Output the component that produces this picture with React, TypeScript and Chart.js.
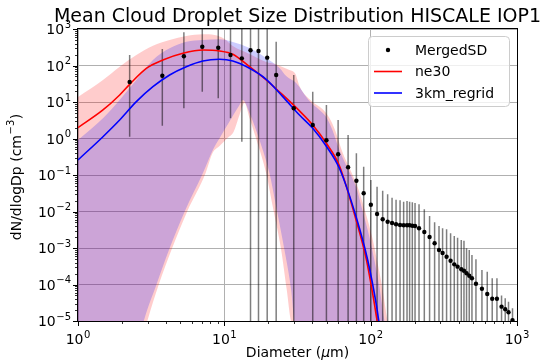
import React, { useEffect, useRef } from "react";
import { Chart, registerables } from "chart.js";

Chart.register(...registerables);

// ---------- data ----------
// MergedSD observations
const sdDiameter = [2.254, 3.769, 5.291, 7.068, 9.086, 11.02, 13.17, 15.10, 17.12, 19.63, 22.61, 29.81, 40.19, 49.85, 59.92, 70.11, 79.88, 89.59, 100.3, 110.6, 120.8, 130.6, 140.0, 149.1, 158.8, 168.0, 177.2, 184.6, 192.6, 201.0, 214.0, 232.6, 252.7, 273.5, 293.1, 310.1, 330.2, 351.7, 372.7, 392.6, 416.1, 434.1, 452.1, 471.7, 492.2, 524.2, 576.0, 626.1, 677.1, 729.3, 784.1, 830.8, 875.0, 931.8];
const sdValue = [35.3, 52.6, 178.6, 327, 305, 194, 157, 261, 250, 164, 55, 6.72, 2.34, 0.893, 0.369, 0.1626, 0.0698, 0.0315, 0.01527, 0.00855, 0.00611, 0.00526, 0.00484, 0.00446, 0.00427, 0.00419, 0.00419, 0.00419, 0.00408, 0.00401, 0.00347, 0.00274, 0.0020, 0.001345, 0.000881, 0.00073, 0.000578, 0.000449, 0.000357, 0.000308, 0.000261, 0.000239, 0.000203, 0.000174, 0.000148, 0.000105, 7.67e-5, 5.5e-5, 4.08e-5, 4.08e-5, 2.47e-5, 2.09e-5, 1.73e-5, 1.06e-5];
const sdErrLow = [1.12, 2.24, 6.72, 19.1, 12.6, 3.57, 0.817, 1e-7, 1e-7, 1e-7, 1e-7, 1e-7, 1e-7, 1e-7, 1e-7, 1e-7, 1e-7, 1e-7, 1e-7, 1e-7, 1e-7, 1e-7, 1e-7, 1e-7, 1e-7, 1e-7, 1e-7, 1e-7, 1e-7, 1e-7, 1e-7, 1e-7, 1e-7, 1e-7, 1e-7, 1e-7, 1e-7, 1e-7, 1e-7, 1e-7, 1e-7, 1e-7, 1e-7, 1e-7, 1e-7, 1e-7, 1e-7, 1e-7, 1e-7, 1e-7, 1e-7, 1e-7, 1e-7, 1e-7];
const sdErrHigh = [194, 283, 813, 1e4, 1e4, 1e4, 1e4, 1e4, 1e4, 1e4, 449, 55, 19.1, 8.27, 3.21, 1.25, 0.393, 0.169, 0.073, 0.0478, 0.0372, 0.0296, 0.0239, 0.0210, 0.0203, 0.01855, 0.0194, 0.0186, 0.0179, 0.0171, 0.0157, 0.01148, 0.00753, 0.00506, 0.00401, 0.00347, 0.00325, 0.00253, 0.00213, 0.00191, 0.00166, 0.00158, 0.00098, 0.00088, 0.000643, 0.00049, 0.000249, 0.000224, 0.000148, 0.000148, 4.97e-5, 4.19e-5, 3.38e-5, 2.23e-5];

// ne30 model mean
const ne30Diameter = [1, 1.481, 1.926, 2.254, 2.93, 3.80, 5.21, 7.132, 9.274, 11.43, 14.86, 19.32, 25.08, 32.61, 40.19, 49.62, 61.13, 79.49, 93.0, 106.0, 109.9, 118.3];
const ne30Value = [1.98, 6.04, 15.6, 30.5, 83.8, 141.6, 216, 266, 250, 203, 92.7, 40.1, 15.6, 5.7, 2.34, 0.753, 0.18, 0.00585, 5.3e-4, 3.0e-5, 1.2e-5, 3.0e-6];

// 3km_regrid model mean
const km3Diameter = [1, 1.481, 1.926, 2.504, 3.251, 4.227, 5.495, 7.132, 9.274, 11.43, 14.86, 19.32, 25.08, 32.61, 40.19, 49.62, 61.13, 79.49, 95.4, 109.9, 113.4, 122.1];
const km3Value = [0.258, 1.12, 3.21, 10.2, 26.2, 55, 92.7, 133, 148, 133, 83.8, 41.9, 14.0, 4.40, 1.90, 0.624, 0.153, 0.00721, 4.69e-4, 2.47e-5, 1.06e-5, 3.0e-6];

// ne30 range (shaded)
const ne30UpperD = [1, 1.481, 1.926, 2.504, 3.251, 4.227, 5.495, 7.132, 8.574, 10.03, 11.43, 14.86, 19.32, 22.37, 24.97, 27.87, 30.62, 32.61, 39.37, 46.81, 52.25, 57.41, 64.09, 72.68, 82.41, 92.0, 102.7, 111.1, 120.2, 130.0, 140.7, 1000];
const ne30UpperV = [13.7, 40.1, 92.7, 194, 349, 500, 643, 716, 685, 532, 342, 207, 125, 110, 91, 75.3, 58.5, 27.4, 10.6, 6.43, 3.65, 1.61, 0.427, 0.137, 0.0413, 0.00968, 0.00188, 4.13e-4, 8.0e-5, 1.06e-5, 2.2e-6, 1e-12];
const ne30LowerD = [1, 2.991, 3.555, 4.395, 5.565, 7.442, 8.309, 9.274, 10.51, 11.56, 12.70, 13.74, 14.86, 16.59, 19.32, 21.43, 24.46, 26.71, 28.62, 1000];
const ne30LowerV = [1e-12, 1.06e-5, 9.68e-5, 9.8e-4, 0.00988, 0.111, 0.40, 0.624, 1.03, 1.51, 4.40, 9.39, 3.65, 0.91, 0.111, 0.01355, 8.81e-4, 7.06e-5, 9.57e-6, 1e-12];

// 3km_regrid range (shaded)
const km3UpperD = [1, 1.481, 1.926, 2.504, 3.251, 4.227, 5.495, 7.132, 9.274, 11.43, 14.86, 19.32, 23.82, 26.46, 30.96, 38.15, 44.66, 49.62, 54.78, 61.13, 69.34, 79.49, 87.78, 97.97, 106.0, 114.7, 124.0, 134.2, 1000];
const km3UpperV = [0.91, 3.58, 11.35, 40.1, 142, 296, 449, 500, 522, 441, 301, 160, 85.5, 51.5, 33.2, 10.6, 6.04, 3.88, 1.71, 0.484, 0.156, 0.0469, 0.011, 0.00204, 4.69e-4, 8.7e-5, 1.06e-5, 2.2e-6, 1e-12];
const km3LowerD = [1, 2.853, 3.429, 4.227, 5.350, 7.132, 8.348, 9.274, 12.70, 13.37, 14.86, 17.39, 20.35, 22.61, 25.76, 28.62, 30.15, 1000];
const km3LowerV = [1e-12, 1.19e-5, 9.68e-5, 9.8e-4, 0.00988, 0.111, 0.484, 1.01, 8.27, 11.35, 5.0, 0.91, 0.111, 0.01355, 8.81e-4, 7.06e-5, 9.57e-6, 1e-12];

// axes ticks
const xTickValues = [1, 10, 100, 1000];
const xTickExponents = ["0", "1", "2", "3"];
const yTickValues = [1e-5, 1e-4, 1e-3, 1e-2, 1e-1, 1, 10, 100, 1000];
const yTickExponents = ["\u22125", "\u22124", "\u22123", "\u22122", "\u22121", "0", "1", "2", "3"];
const minorSubs = [2, 3, 4, 5, 6, 7, 8, 9];

const titleText = "Mean Cloud Droplet Size Distribution HISCALE IOP1";
const legendLabels = ["MergedSD", "ne30", "3km_regrid"];

const FONT = '"DejaVu Sans", sans-serif';
const RED = "#ff0000";
const BLUE = "#0000ff";

const pts = (xs: number[], ys: number[]) => xs.map((x, i) => ({ x, y: ys[i] }));

function drawPow(ctx: CanvasRenderingContext2D, x: number, baseline: number, exp: string, align: "center" | "right") {
  ctx.font = `14px ${FONT}`;
  const wb = ctx.measureText("10").width;
  ctx.font = `10px ${FONT}`;
  const ws = ctx.measureText(exp).width;
  const total = wb + ws + 0.5;
  const left = align === "center" ? x - total / 2 : x - total;
  ctx.textAlign = "left";
  ctx.textBaseline = "alphabetic";
  ctx.font = `14px ${FONT}`;
  ctx.fillText("10", left, baseline);
  ctx.font = `10px ${FONT}`;
  ctx.fillText(exp, left + wb + 0.5, baseline - 6.5);
}

const decorPlugin = {
  id: "decor",
  afterDatasetsDraw(chart: any) {
    const { ctx, chartArea: a, scales } = chart;
    const xs = scales.x;
    const ys = scales.y;
    ctx.save();
    ctx.strokeStyle = "#000";
    ctx.lineWidth = 1;
    ctx.strokeRect(Math.round(a.left) - 0.5, Math.round(a.top) - 0.5, Math.round(a.right - a.left) + 1, Math.round(a.bottom - a.top) + 1);
    ctx.beginPath();
    for (const v of xTickValues) {
      const px = Math.round(xs.getPixelForValue(v)) + 0.5;
      ctx.moveTo(px, a.bottom);
      ctx.lineTo(px, a.bottom + 5);
    }
    for (const v of yTickValues) {
      const py = Math.round(ys.getPixelForValue(v)) + 0.5;
      ctx.moveTo(a.left, py);
      ctx.lineTo(a.left - 5, py);
    }
    ctx.stroke();
    ctx.beginPath();
    ctx.lineWidth = 0.8;
    for (const d of xTickValues.slice(0, -1)) {
      for (const s of minorSubs) {
        const px = Math.round(xs.getPixelForValue(d * s)) + 0.5;
        ctx.moveTo(px, a.bottom);
        ctx.lineTo(px, a.bottom + 3);
      }
    }
    for (const d of yTickValues.slice(0, -1)) {
      for (const s of minorSubs) {
        const py = Math.round(ys.getPixelForValue(d * s)) + 0.5;
        ctx.moveTo(a.left, py);
        ctx.lineTo(a.left - 3, py);
      }
    }
    ctx.stroke();
    ctx.restore();
  },
  afterDraw(chart: any) {
    const { ctx, chartArea: a, scales } = chart;
    const xs = scales.x;
    const ys = scales.y;
    ctx.save();
    ctx.fillStyle = "#000";
    xTickValues.forEach((v, i) => drawPow(ctx, xs.getPixelForValue(v), a.bottom + 23, xTickExponents[i], "center"));
    yTickValues.forEach((v, i) => drawPow(ctx, a.left - 7, ys.getPixelForValue(v) + 5, yTickExponents[i], "right"));

    // title
    ctx.font = `19px ${FONT}`;
    ctx.textAlign = "center";
    ctx.textBaseline = "alphabetic";
    ctx.fillText(titleText, (a.left + a.right) / 2, 22);

    // x label
    ctx.font = `14px ${FONT}`;
    const p1 = "Diameter (";
    const p3 = "m)";
    const w1 = ctx.measureText(p1).width;
    const w3 = ctx.measureText(p3).width;
    ctx.font = `italic 14px ${FONT}`;
    const w2 = ctx.measureText("\u03bc").width;
    const lx = (a.left + a.right) / 2 - (w1 + w2 + w3) / 2;
    ctx.textAlign = "left";
    ctx.font = `14px ${FONT}`;
    ctx.fillText(p1, lx, 357);
    ctx.font = `italic 14px ${FONT}`;
    ctx.fillText("\u03bc", lx + w1, 357);
    ctx.font = `14px ${FONT}`;
    ctx.fillText(p3, lx + w1 + w2, 357);

    // y label
    ctx.save();
    ctx.translate(20.5, (a.top + a.bottom) / 2 + 2);
    ctx.rotate(-Math.PI / 2);
    const q1 = "dN/dlogDp (cm";
    const q2 = "\u22123";
    const q3 = ")";
    ctx.font = `14px ${FONT}`;
    const v1 = ctx.measureText(q1).width;
    const v3 = ctx.measureText(q3).width;
    ctx.font = `10px ${FONT}`;
    const v2 = ctx.measureText(q2).width;
    const tot = v1 + v2 + v3 + 1;
    const sx = -tot / 2;
    ctx.textAlign = "left";
    ctx.font = `14px ${FONT}`;
    ctx.fillText(q1, sx, 0);
    ctx.font = `10px ${FONT}`;
    ctx.fillText(q2, sx + v1 + 0.5, -6.5);
    ctx.font = `14px ${FONT}`;
    ctx.fillText(q3, sx + v1 + v2 + 1, 0);
    ctx.restore();

    // legend
    const bx = 368.5, by = 36.5, bw = 141, bh = 70, r = 4;
    ctx.beginPath();
    ctx.moveTo(bx + r, by);
    ctx.lineTo(bx + bw - r, by);
    ctx.arcTo(bx + bw, by, bx + bw, by + r, r);
    ctx.lineTo(bx + bw, by + bh - r);
    ctx.arcTo(bx + bw, by + bh, bx + bw - r, by + bh, r);
    ctx.lineTo(bx + r, by + bh);
    ctx.arcTo(bx, by + bh, bx, by + bh - r, r);
    ctx.lineTo(bx, by + r);
    ctx.arcTo(bx, by, bx + r, by, r);
    ctx.closePath();
    ctx.fillStyle = "rgba(255,255,255,0.8)";
    ctx.fill();
    ctx.strokeStyle = "#cccccc";
    ctx.lineWidth = 1;
    ctx.stroke();

    const rowY = [50, 71.5, 93];
    const hx0 = 374, hx1 = 402, tx = 415;
    ctx.fillStyle = "#000";
    ctx.beginPath();
    ctx.arc((hx0 + hx1) / 2, rowY[0], 2.2, 0, Math.PI * 2);
    ctx.fill();
    ctx.lineWidth = 1.6;
    ctx.strokeStyle = RED;
    ctx.beginPath();
    ctx.moveTo(hx0, rowY[1]);
    ctx.lineTo(hx1, rowY[1]);
    ctx.stroke();
    ctx.strokeStyle = BLUE;
    ctx.beginPath();
    ctx.moveTo(hx0, rowY[2]);
    ctx.lineTo(hx1, rowY[2]);
    ctx.stroke();
    ctx.fillStyle = "#000";
    ctx.font = `14px ${FONT}`;
    ctx.textAlign = "left";
    ctx.textBaseline = "middle";
    legendLabels.forEach((t, i) => ctx.fillText(t, tx, rowY[i] + 1));
    ctx.restore();
  },
};

export default function App() {
  const ref = useRef<HTMLCanvasElement>(null);
  useEffect(() => {
    if (!ref.current) return;
    const errData: { x: number; y: number | null }[] = [];
    sdDiameter.forEach((d, i) => {
      errData.push({ x: d, y: sdErrLow[i] }, { x: d, y: sdErrHigh[i] }, { x: d, y: null });
    });
    const band = (d: number[], v: number[], fill: any, bg: string | undefined, order: number) => ({
      data: pts(d, v),
      borderWidth: 0,
      borderColor: "rgba(0,0,0,0)",
      backgroundColor: bg,
      pointRadius: 0,
      cubicInterpolationMode: "monotone",
      fill,
      order,
    });
    const chart = new Chart(ref.current, {
      type: "line",
      data: {
        datasets: [
          {
            label: "MergedSD",
            data: pts(sdDiameter, sdValue),
            showLine: false,
            pointRadius: 2.2,
            pointBackgroundColor: "#000",
            pointBorderWidth: 0,
            borderColor: "#000",
            order: 0,
          },
          {
            label: "3km_regrid",
            data: pts(km3Diameter, km3Value),
            borderColor: BLUE,
            borderWidth: 1.6,
            pointRadius: 0,
            cubicInterpolationMode: "monotone",
            fill: false,
            order: 1,
          },
          {
            label: "ne30",
            data: pts(ne30Diameter, ne30Value),
            borderColor: RED,
            borderWidth: 1.6,
            pointRadius: 0,
            cubicInterpolationMode: "monotone",
            fill: false,
            order: 2,
          },
          {
            label: "errorbars",
            data: errData as any,
            borderColor: "rgba(0,0,0,0.5)",
            borderWidth: 1.5,
            pointRadius: 0,
            spanGaps: false,
            fill: false,
            order: 3,
          },
          { label: "3km upper", ...band(km3UpperD, km3UpperV, 5, "rgba(0,0,255,0.2)", 4) },
          { label: "3km lower", ...band(km3LowerD, km3LowerV, false, undefined, 5) },
          { label: "ne30 upper", ...band(ne30UpperD, ne30UpperV, 7, "rgba(255,0,0,0.2)", 6) },
          { label: "ne30 lower", ...band(ne30LowerD, ne30LowerV, false, undefined, 7) },
        ],
      },
      options: {
        animation: false,
        responsive: false,
        devicePixelRatio: 1,
        events: [],
        layout: { padding: { left: 78, right: 27, top: 29, bottom: 41 } },
        plugins: {
          legend: { display: false },
          title: { display: false },
          tooltip: { enabled: false },
        },
        scales: {
          x: {
            type: "logarithmic",
            min: 1,
            max: 1000,
            afterBuildTicks: (s: any) => {
              s.ticks = xTickValues.map((v) => ({ value: v }));
            },
            ticks: { display: false },
            grid: { color: "#b0b0b0", lineWidth: 1, drawTicks: false },
            border: { display: false },
          },
          y: {
            type: "logarithmic",
            min: 1e-5,
            max: 1e3,
            afterBuildTicks: (s: any) => {
              s.ticks = yTickValues.map((v) => ({ value: v }));
            },
            ticks: { display: false },
            grid: { color: "#b0b0b0", lineWidth: 1, drawTicks: false },
            border: { display: false },
          },
        },
      },
      plugins: [decorPlugin],
    } as any);
    return () => chart.destroy();
  }, []);
  return (
    <div style={{ position: "fixed", left: 0, top: 0, width: 544, height: 362, background: "#fff" }}>
      <canvas ref={ref} width={544} height={362} style={{ display: "block" }} />
    </div>
  );
}
